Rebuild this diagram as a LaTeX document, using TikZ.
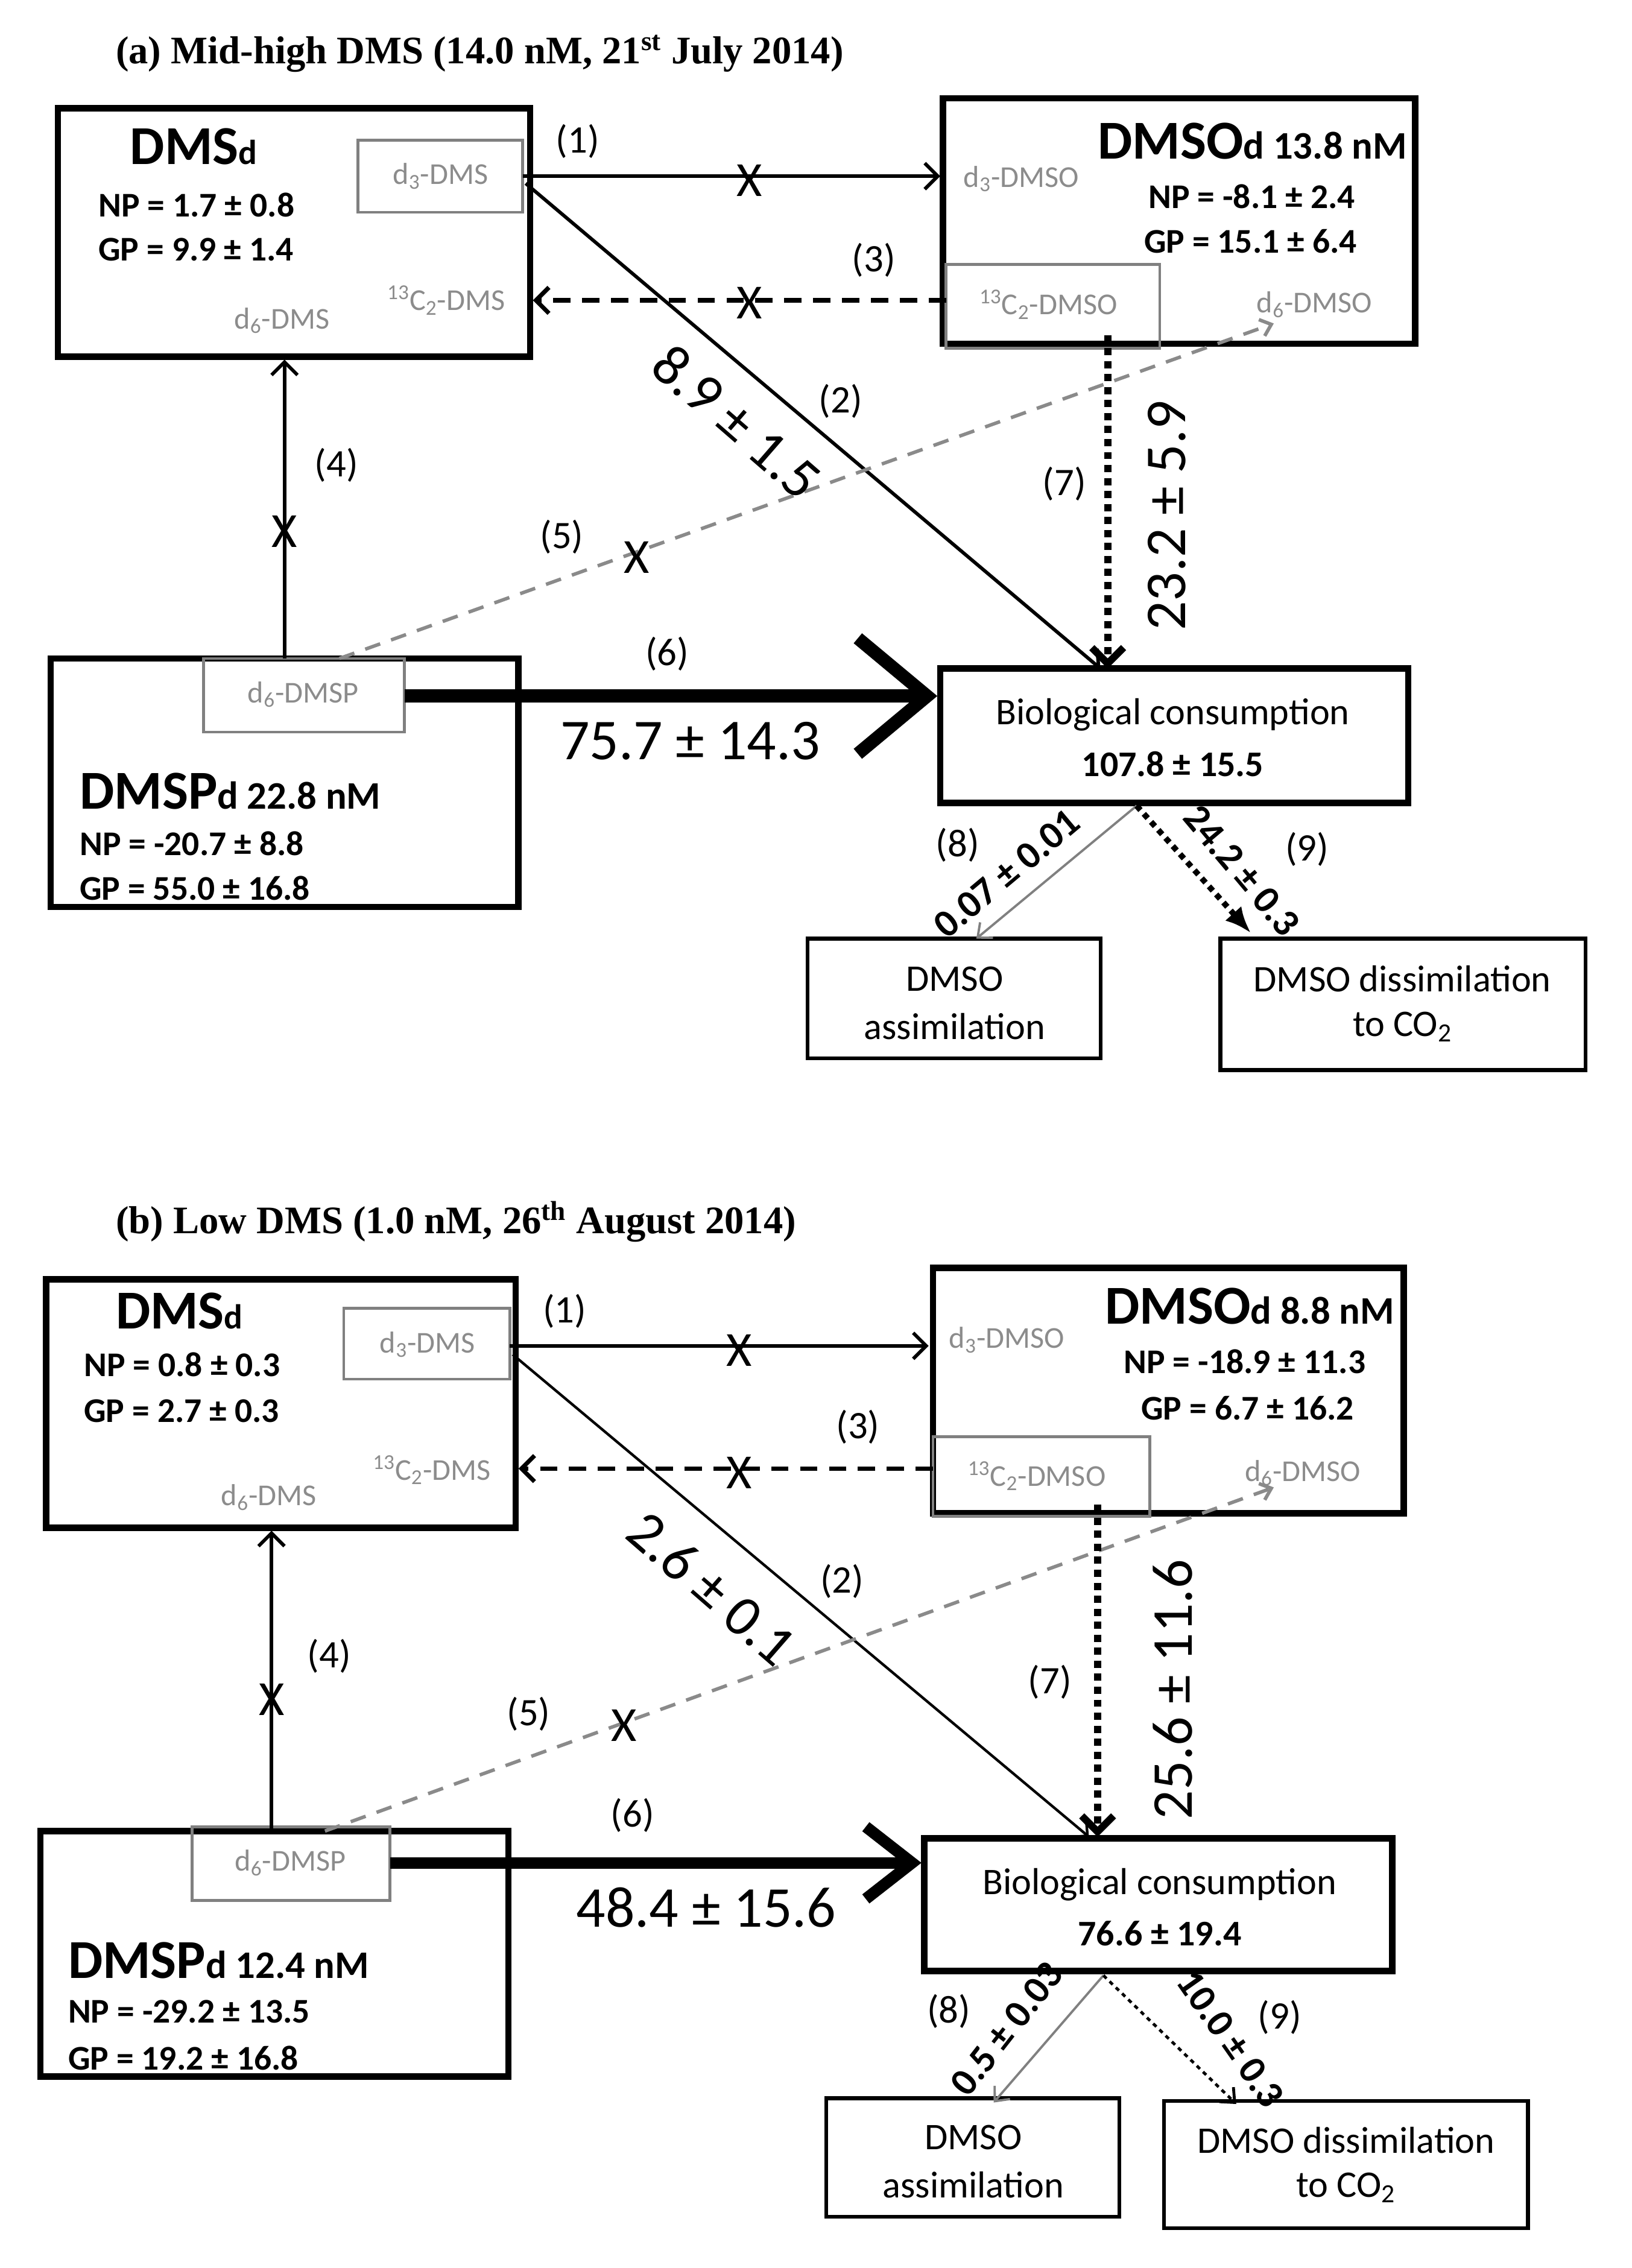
\documentclass[tikz,border=0pt]{standalone}
\usepackage{fontspec}
\setmainfont{Carlito}
\newfontfamily\titlefont{Liberation Serif}
\usetikzlibrary{arrows.meta}
\newcommand\fsz[1]{\fontsize{#1}{#1}\selectfont}
\definecolor{isogray}{HTML}{8C8C8C}
\definecolor{boxgray}{HTML}{808080}
\definecolor{dashgray}{HTML}{8A8A8A}
\begin{document}
\begin{tikzpicture}[x=1pt,y=-1pt,
  mainbox/.style={draw=black,line width=4.4pt,anchor=north west,inner sep=0pt,outer sep=0pt},
  thinbox/.style={draw=black,line width=2.6pt,anchor=north west,inner sep=0pt,outer sep=0pt},
  graybox/.style={draw=boxgray,line width=2pt,anchor=north west,inner sep=0pt,outer sep=0pt},
  ttl/.style={font=\titlefont\bfseries\fsz{27},anchor=west,inner sep=0pt},
  big/.style={font=\bfseries\fsz{38},anchor=base west,inner sep=0pt},
  stat/.style={font=\bfseries\fsz{24},anchor=west,inner sep=0pt},
  iso/.style={font=\fsz{21},text=isogray,anchor=west,inner sep=0pt},
  boxtxt/.style={font=\fsz{26},inner sep=0pt},
  boxnum/.style={font=\bfseries\fsz{25},inner sep=0pt},
  lbl/.style={font=\fsz{27},inner sep=0pt},
  flux/.style={font=\fsz{40},inner sep=0pt},
  smallflux/.style={font=\bfseries\fsz{27},inner sep=0pt},
  xmark/.style={font=\fsz{34},inner sep=0pt},
  barb/.style={-{Straight Barb[length=9pt,width=18pt]}},
  solidarrow/.style={barb,line width=2.4pt},
  dasharrow/.style={barb,line width=3pt,dash pattern=on 12pt off 8pt},
  grayarrow/.style={-{Straight Barb[length=7pt,width=12pt]},draw=dashgray,line width=2.4pt,dash pattern=on 11pt off 8pt},
  dotarrow/.style={-{Straight Barb[length=11pt,width=22pt]},line width=5pt,dash pattern=on 5pt off 4pt},
  fatarrow/.style={-{Straight Barb[length=48pt,width=80pt]},line width=9pt},
]
\useasboundingbox (0,0) rectangle (1130,1570.6);

%% ================= PANEL (a) =================
\node[ttl] (titleA) at (80,37) {(a) Mid-high DMS (14.0 nM, 21\textsuperscript{st} July 2014)};

\node[mainbox,minimum width=327,minimum height=172] (dmsA) at (40,75) {};
\node[graybox,minimum width=114,minimum height=50] (d3A) at (248,97) {};
\node[mainbox,minimum width=327,minimum height=170] (dmsoA) at (653,68) {};
\node[graybox,minimum width=148,minimum height=58] (c13A) at (655,183) {};
\node[mainbox,minimum width=324,minimum height=172] (dmspA) at (35,456) {};
\node[graybox,minimum width=139,minimum height=51] (d6pA) at (141,456) {};
\node[mainbox,minimum width=324,minimum height=93] (bioA) at (651,463) {};
\node[thinbox,minimum width=203,minimum height=83] (assA) at (559,650) {};
\node[thinbox,minimum width=253,minimum height=91] (disA) at (845,650) {};

% texts in boxes
\node[big] (dmsAt) at (90,114) {DMS{\fsz{24}d}};
\node[stat] (dmsAnp) at (68,142) {NP = 1.7 ± 0.8};
\node[stat] (dmsAgp) at (68,173) {GP = 9.9 ± 1.4};
\node[iso,anchor=center] (d3At) at (305,122) {d\textsubscript{3}-DMS};
\node[iso] (c13At) at (268,208) {\textsuperscript{13}C\textsubscript{2}-DMS};
\node[iso] (d6At) at (162,222) {d\textsubscript{6}-DMS};

\node[big] (dmsoAt) at (760,110) {DMSO{\fsz{27}d 13.8 nM}};
\node[stat] (dmsoAnp) at (795,136) {NP = -8.1 ± 2.4};
\node[stat] (dmsoAgp) at (792,167) {GP = 15.1 ± 6.4};
\node[iso] (d3oAt) at (667,124) {d\textsubscript{3}-DMSO};
\node[iso] (c13oAt) at (678,211) {\textsuperscript{13}C\textsubscript{2}-DMSO};
\node[iso] (d6oAt) at (870,211) {d\textsubscript{6}-DMSO};

\node[big] (dmspAt) at (55,560) {DMSP{\fsz{27}d 22.8 nM}};
\node[stat] (dmspAnp) at (55,584) {NP = -20.7 ± 8.8};
\node[stat] (dmspAgp) at (55,615) {GP = 55.0 ± 16.8};
\node[iso,anchor=center] (d6pAt) at (210,481) {d\textsubscript{6}-DMSP};

\node[boxtxt] (bioAt) at (812,495) {Biological consumption};
\node[boxnum] (bioAn) at (812,529) {107.8 ± 15.5};
\node[boxtxt] (assAt1) at (661,678) {DMSO};
\node[boxtxt] (assAt2) at (661,711) {assimilation};
\node[boxtxt] (disAt1) at (971,678) {DMSO dissimilation};
\node[boxtxt] (disAt2) at (971,711) {to CO\textsubscript{2}};

% connector end points
\coordinate (a1s) at (362,122);  \coordinate (a1e) at (651,122);
\coordinate (a3s) at (655,208);  \coordinate (a3e) at (369,208);
\coordinate (a2s) at (364,127);  \coordinate (a2e) at (762,463);
\coordinate (a7s) at (767,232);  \coordinate (a7e) at (767,463);
\coordinate (a5s) at (235,456);  \coordinate (a5e) at (882,224);
\coordinate (a4s) at (197,456);  \coordinate (a4e) at (197,249);
\coordinate (a6s) at (280,482);  \coordinate (a6e) at (649,482);
\coordinate (a8s) at (787,558);  \coordinate (a8e) at (676,650);
\coordinate (a9s) at (787,558);  \coordinate (a9e) at (866,646);

\draw[solidarrow] (a1s) -- (a1e);
\draw[dasharrow] (a3s) -- (a3e);
\draw[solidarrow] (a2s) -- (a2e);
\draw[grayarrow] (a5s) -- (a5e);
\draw[dotarrow] (a7s) -- (a7e);
\draw[solidarrow] (a4s) -- (a4e);
\draw[fatarrow] (a6s) -- (a6e);
\draw[-{Straight Barb[length=8pt,width=14pt]},draw=boxgray,line width=1.6pt] (a8s) -- (a8e);
\draw[-{Latex[length=18pt,width=15pt]},line width=4pt,dash pattern=on 4pt off 3.5pt] (a9s) -- (a9e);

% X marks
\node[xmark] (xA1) at (519,125) {X};
\node[xmark] (xA3) at (519,210) {X};
\node[xmark] (xA4) at (197,368) {X};
\node[xmark] (xA5) at (441,386) {X};

% labels
\node[lbl] (lA1) at (400,98) {(1)};
\node[lbl] (lA3) at (605,180) {(3)};
\node[lbl] (lA2) at (582,278) {(2)};
\node[lbl] (lA7) at (737,335) {(7)};
\node[lbl] (lA4) at (233,322) {(4)};
\node[lbl] (lA5) at (389,372) {(5)};
\node[lbl] (lA6) at (462,453) {(6)};
\node[lbl] (lA8) at (663,585) {(8)};
\node[lbl] (lA9) at (905,588) {(9)};

% flux values
\node[flux,rotate=-41] (fA2) at (510,292) {8.9 ± 1.5};
\node[flux,rotate=90] (fA7) at (808,357) {23.2 ± 5.9};
\node[flux] (fA6) at (478,513) {75.7 ± 14.3};
\node[smallflux,rotate=40] (fA8) at (697,605) {0.07 ± 0.01};
\node[smallflux,rotate=-50] (fA9) at (860,603) {24.2 ± 0.3};

%% ================= PANEL (b) =================
\node[ttl] (titleB) at (80,846) {(b) Low DMS (1.0 nM, 26\textsuperscript{th} August 2014)};

\node[mainbox,minimum width=325,minimum height=172] (dmsB) at (32,886) {};
\node[graybox,minimum width=115,minimum height=49] (d3B) at (238,906) {};
\node[mainbox,minimum width=326,minimum height=170] (dmsoB) at (646,878) {};
\node[graybox,minimum width=150,minimum height=55] (c13B) at (646,995) {};
\node[mainbox,minimum width=324,minimum height=170] (dmspB) at (28,1268) {};
\node[graybox,minimum width=137,minimum height=51] (d6pB) at (133,1265) {};
\node[mainbox,minimum width=324,minimum height=92] (bioB) at (640,1273) {};
\node[thinbox,minimum width=203,minimum height=82] (assB) at (572,1453) {};
\node[thinbox,minimum width=252,minimum height=88] (disB) at (806,1455) {};

\node[big] (dmsBt) at (80,920) {DMS{\fsz{24}d}};
\node[stat] (dmsBnp) at (58,945) {NP = 0.8 ± 0.3};
\node[stat] (dmsBgp) at (58,977) {GP = 2.7 ± 0.3};
\node[iso,anchor=center] (d3Bt) at (296,931) {d\textsubscript{3}-DMS};
\node[iso] (c13Bt) at (258,1018) {\textsuperscript{13}C\textsubscript{2}-DMS};
\node[iso] (d6Bt) at (153,1037) {d\textsubscript{6}-DMS};

\node[big] (dmsoBt) at (765,917) {DMSO{\fsz{27}d 8.8 nM}};
\node[stat] (dmsoBnp) at (778,943) {NP = -18.9 ± 11.3};
\node[stat] (dmsoBgp) at (790,975) {GP = 6.7 ± 16.2};
\node[iso] (d3oBt) at (657,928) {d\textsubscript{3}-DMSO};
\node[iso] (c13oBt) at (670,1022) {\textsuperscript{13}C\textsubscript{2}-DMSO};
\node[iso] (d6oBt) at (862,1020) {d\textsubscript{6}-DMSO};

\node[big] (dmspBt) at (47,1370) {DMSP{\fsz{27}d 12.4 nM}};
\node[stat] (dmspBnp) at (47,1393) {NP = -29.2 ± 13.5};
\node[stat] (dmspBgp) at (47,1425) {GP = 19.2 ± 16.8};
\node[iso,anchor=center] (d6pBt) at (201,1290) {d\textsubscript{6}-DMSP};

\node[boxtxt] (bioBt) at (803,1305) {Biological consumption};
\node[boxnum] (bioBn) at (803,1339) {76.6 ± 19.4};
\node[boxtxt] (assBt1) at (674,1480) {DMSO};
\node[boxtxt] (assBt2) at (674,1513) {assimilation};
\node[boxtxt] (disBt1) at (932,1482) {DMSO dissimilation};
\node[boxtxt] (disBt2) at (932,1515) {to CO\textsubscript{2}};

\coordinate (b1s) at (353,932);  \coordinate (b1e) at (643,932);
\coordinate (b3s) at (646,1017); \coordinate (b3e) at (359,1017);
\coordinate (b2s) at (355,938);  \coordinate (b2e) at (754,1272);
\coordinate (b7s) at (760,1042); \coordinate (b7e) at (760,1272);
\coordinate (b5s) at (225,1268); \coordinate (b5e) at (882,1030);
\coordinate (b4s) at (188,1268); \coordinate (b4e) at (188,1060);
\coordinate (b6s) at (270,1290); \coordinate (b6e) at (638,1290);
\coordinate (b8s) at (764,1368); \coordinate (b8e) at (688,1456);
\coordinate (b9s) at (764,1368); \coordinate (b9e) at (856,1457);

\draw[solidarrow] (b1s) -- (b1e);
\draw[dasharrow] (b3s) -- (b3e);
\draw[solidarrow,line width=1.8pt] (b2s) -- (b2e);
\draw[grayarrow] (b5s) -- (b5e);
\draw[dotarrow] (b7s) -- (b7e);
\draw[solidarrow] (b4s) -- (b4e);
\draw[-{Straight Barb[length=32pt,width=50pt]},line width=8pt] (b6s) -- (b6e);
\draw[-{Straight Barb[length=8pt,width=14pt]},draw=boxgray,line width=1.6pt] (b8s) -- (b8e);
\draw[-{Straight Barb[length=8pt,width=14pt]},line width=2pt,dash pattern=on 3pt off 3pt] (b9s) -- (b9e);

\node[xmark] (xB1) at (512,935) {X};
\node[xmark] (xB3) at (512,1020) {X};
\node[xmark] (xB4) at (188,1177) {X};
\node[xmark] (xB5) at (432,1195) {X};

\node[lbl] (lB1) at (391,908) {(1)};
\node[lbl] (lB3) at (594,988) {(3)};
\node[lbl] (lB2) at (583,1095) {(2)};
\node[lbl] (lB7) at (727,1165) {(7)};
\node[lbl] (lB4) at (228,1147) {(4)};
\node[lbl] (lB5) at (366,1187) {(5)};
\node[lbl] (lB6) at (438,1257) {(6)};
\node[lbl] (lB8) at (657,1393) {(8)};
\node[lbl] (lB9) at (886,1397) {(9)};

\node[flux,rotate=-41] (fB2) at (493,1100) {2.6 ± 0.1};
\node[flux,rotate=90] (fB7) at (812,1170) {25.6 ± 11.6};
\node[flux] (fB6) at (489,1321) {48.4 ± 15.6};
\node[smallflux,rotate=52] (fB8) at (697,1405) {0.5 ± 0.03};
\node[smallflux,rotate=-55] (fB9) at (852,1412) {10.0 ± 0.3};
\end{tikzpicture}
\end{document}
